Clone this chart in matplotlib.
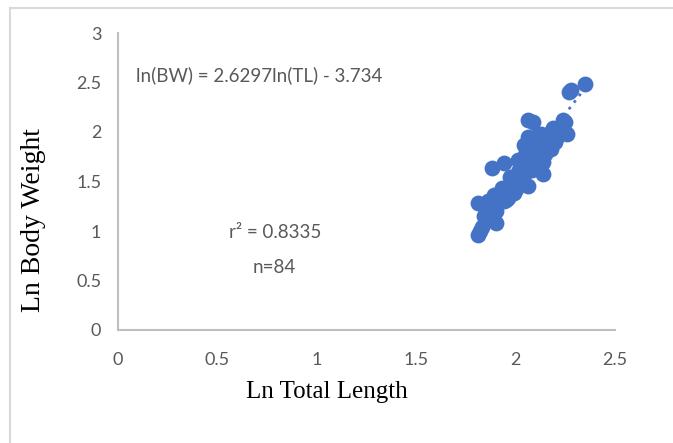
import matplotlib.pyplot as plt
from matplotlib.lines import Line2D

# Ln total length / ln body weight
ln_tl = [1.81, 1.82, 1.83, 1.81, 1.84, 1.86, 1.85, 1.87, 1.88, 1.89, 1.90, 1.90, 1.88, 1.89,
         1.91, 1.92, 1.93, 1.94, 1.95, 1.95, 1.94, 1.96, 1.97, 1.97, 1.98, 1.99, 1.99, 2.00,
         2.00, 2.01, 2.01, 1.93, 1.96, 1.98,
         2.02, 2.02, 2.03, 2.03, 2.04, 2.04, 2.05, 2.05, 2.06, 2.06, 2.06, 2.07, 2.07, 2.08,
         2.08, 2.09, 2.09, 2.10, 2.10, 2.11, 2.11, 2.04, 2.03, 2.05, 2.08, 2.10,
         2.12, 2.13, 2.14, 2.14, 2.15, 2.16, 2.17, 2.18, 2.19, 2.20, 2.21, 2.22, 2.19, 2.24,
         2.26, 2.25, 2.27, 2.28, 2.35, 2.12, 2.13, 2.16, 2.18, 2.15]
ln_bw = [0.96, 1.00, 1.04, 1.28, 1.15, 1.30, 1.12, 1.20, 1.25, 1.18, 1.08, 1.20, 1.64, 1.36,
         1.28, 1.33, 1.43, 1.30, 1.31, 1.40, 1.69, 1.38, 1.55, 1.45, 1.50, 1.48, 1.38, 1.42,
         1.55, 1.72, 1.60, 1.38, 1.33, 1.40,
         1.58, 1.65, 1.70, 1.62, 1.75, 1.68, 1.80, 1.60, 1.45, 1.95, 2.12, 1.85, 1.75, 1.90,
         1.70, 2.10, 1.88, 1.80, 1.95, 1.72, 1.85, 1.87, 1.50, 1.68, 1.62, 1.65,
         1.90, 1.98, 1.58, 1.70, 1.93, 1.97, 1.85, 2.00, 1.92, 1.90, 1.95, 2.02, 2.04, 2.12,
         1.98, 2.10, 2.40, 2.42, 2.48, 1.80, 1.75, 1.88, 1.83, 1.78]

slope = 2.6297
intercept = -3.734

x_ticks = [0, 0.5, 1, 1.5, 2, 2.5]
x_tick_labels = ['0', '0.5', '1', '1.5', '2', '2.5']
y_ticks = [0, 0.5, 1, 1.5, 2, 2.5, 3]
y_tick_labels = ['0', '0.5', '1', '1.5', '2', '2.5', '3']

blue = '#4472C4'
grey_text = '#595959'
axis_grey = '#BFBFBF'

fig = plt.figure(figsize=(6.73, 4.43), dpi=100)
ax = fig.add_axes([118 / 673, 113 / 443, 497 / 673, 297 / 443])

ax.scatter(ln_tl, ln_bw, s=130, color=blue, zorder=3, linewidths=0)

# trendline from the smallest to the largest x
x0, x1 = min(ln_tl), max(ln_tl)
ax.plot([x0, x1], [slope * x0 + intercept, slope * x1 + intercept],
        color=blue, linestyle=(0, (1, 2)), linewidth=2, zorder=2)

ax.set_xlim(0, 2.5)
ax.set_ylim(0, 3)
ax.set_xticks(x_ticks)
ax.set_xticklabels(x_tick_labels)
ax.set_yticks(y_ticks)
ax.set_yticklabels(y_tick_labels)
ax.tick_params(length=0, labelsize=13, labelcolor=grey_text)
ax.tick_params(axis='x', pad=16)
ax.tick_params(axis='y', pad=12)
for lab in ax.get_xticklabels() + ax.get_yticklabels():
    lab.set_family('Lato')

for side in ['top', 'right']:
    ax.spines[side].set_visible(False)
for side in ['left', 'bottom']:
    ax.spines[side].set_color(axis_grey)
    ax.spines[side].set_linewidth(1.5)

ax.set_xlabel('Ln Total Length', family='Liberation Serif', fontsize=18)
ax.set_ylabel('Ln Body Weight', family='Liberation Serif', fontsize=20)
ax.xaxis.label.set_va('center')
ax.yaxis.label.set_va('center')
ax.xaxis.set_label_coords(0.42, -0.209)
ax.yaxis.set_label_coords(-0.171, 0.37)

ax.text(0.09, 2.57, 'ln(BW) = 2.6297ln(TL) - 3.734', family='Lato', fontsize=13.5,
        color=grey_text, va='center', ha='left')
ax.text(0.79, 0.98, 'r² = 0.8335', family='Lato', fontsize=13.5,
        color=grey_text, va='center', ha='center')
ax.text(0.785, 0.63, 'n=84', family='Lato', fontsize=13.5,
        color=grey_text, va='center', ha='center')

# outer chart border (left and top visible)
fig.add_artist(Line2D([10 / 673, 10 / 673], [0, 1 - 8 / 443], transform=fig.transFigure,
                      color='#D9D9D9', linewidth=1.5))
fig.add_artist(Line2D([10 / 673, 1], [1 - 8 / 443, 1 - 8 / 443], transform=fig.transFigure,
                      color='#D9D9D9', linewidth=1.5))

fig.savefig('out.png', dpi=100)
